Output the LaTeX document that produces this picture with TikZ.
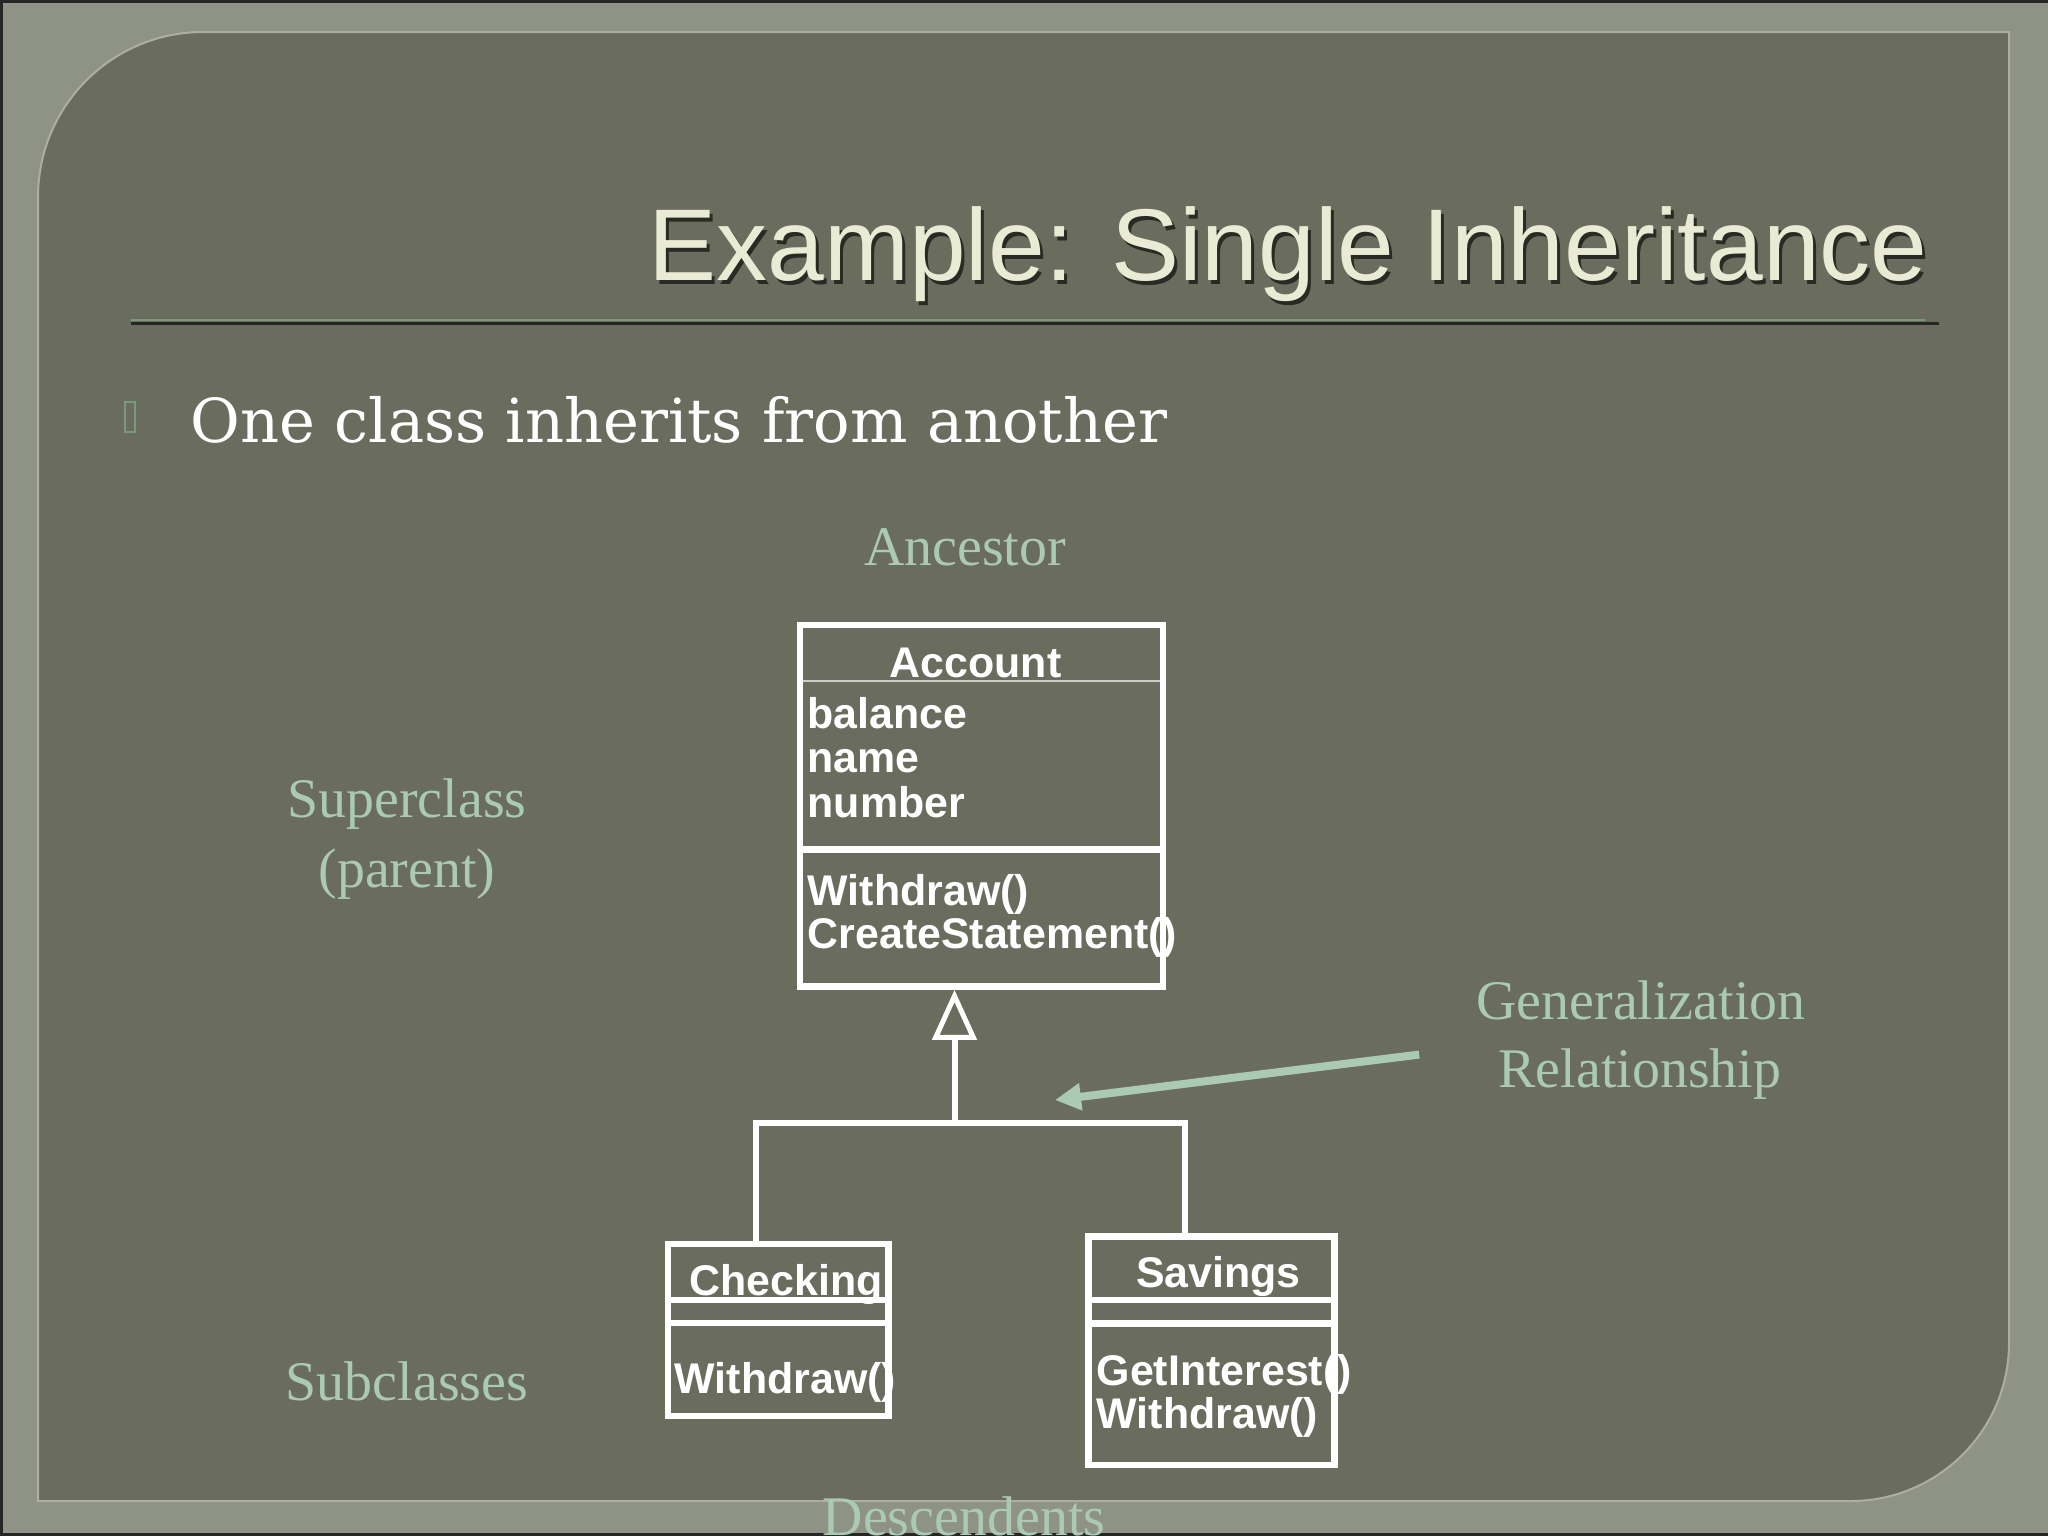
\documentclass[tikz,border=0pt]{standalone}
\usepackage{fontspec}
\setmainfont{Liberation Serif}
\newfontfamily\arialfont{Liberation Sans}
\newfontfamily\slabfont{DejaVu Serif}
\usetikzlibrary{arrows.meta}
\definecolor{framecol}{RGB}{143,147,133}
\definecolor{panelcol}{RGB}{106,108,94}
\definecolor{edgecol}{RGB}{172,175,160}
\definecolor{titlecol}{RGB}{234,235,212}
\definecolor{shadowcol}{RGB}{40,42,36}
\definecolor{notecol}{RGB}{170,202,178}
\definecolor{rulegreen}{RGB}{122,154,124}
\definecolor{bulletcol}{RGB}{122,152,124}

\tikzset{
  umlbox/.style={draw=white, line width=0.065cm, inner sep=0pt},
  divider/.style={draw=white, line width=0.065cm},
  umlname/.style={text=white, font=\arialfont\bfseries\fontsize{12.2}{14.5}\selectfont, inner sep=0pt, anchor=base},
  umlline/.style={umlname, anchor=base west},
  note/.style={text=notecol, font=\fontsize{15.9}{19}\selectfont, inner sep=0pt, anchor=base},
  link/.style={draw=white, line width=0.06cm},
  pointer/.style={draw=notecol, line width=0.08cm, -{Triangle[length=2.6mm,width=2.6mm]}},
}

\begin{document}
\begin{tikzpicture}[x=0.01cm, y=-0.01cm]
  \useasboundingbox (0,0) rectangle (2048,1536);
  \clip (0,0) rectangle (2048,1536);

  % Moldura e painel
  \fill[framecol] (0,0) rectangle (2048,1536);
  \draw[black!85, line width=0.03cm] (2048,1.5) -- (1.5,1.5) -- (1.5,1534.5) -- (2048,1534.5);
  \filldraw[fill=panelcol, draw=edgecol, line width=0.02cm]
    (38,1501) -- (38,197) .. controls (38,106) and (112,32) .. (203,32)
    -- (2009,32) -- (2009,1343) .. controls (2009,1430) and (1938,1501) .. (1851,1501) -- cycle;

  % Titulo
  \node[text=shadowcol, font=\arialfont\fontsize{29}{34}\selectfont, inner sep=0pt, anchor=base] (titleshadow) at (1291,284) {Example: Single Inheritance};
  \node[text=titlecol, font=\arialfont\fontsize{29}{34}\selectfont, inner sep=0pt, anchor=base] (title) at (1288,280) {Example: Single Inheritance};
  \draw[black!85, line width=0.025cm] (131,323.5) -- (1939,323.5);
  \draw[rulegreen, line width=0.025cm] (131,320) -- (1925,320);

  % Texto
  \node[draw=bulletcol, line width=0.015cm, minimum width=0.1cm, minimum height=0.3cm, inner sep=0pt] (bullet) at (130,417) {};
  \node[text=white, font=\slabfont\fontsize{17.25}{21}\selectfont, inner sep=0pt, anchor=base] (intro) at (679,442) {One class inherits from another};

  % Rotulos
  \node[note] (ancestor) at (965,565) {Ancestor};
  \node[note] (superclass) at (407,817) {Superclass};
  \node[note] (parent) at (407,887) {(parent)};
  \node[note] (subclasses) at (407,1400) {Subclasses};
  \node[note] (gen) at (1641,1019) {Generalization};
  \node[note] (rel) at (1640,1087) {Relationship};
  \node[note] (descend) at (964,1535) {Descendents};

  % Classe Account
  \node[umlbox, minimum width=3.63cm, minimum height=3.615cm] (account) at (981.5,805.75) {};
  \draw[white!65!panelcol, line width=0.02cm] (803,681) -- (1160,681);
  \draw[divider] (800,849.5) -- (1163,849.5);
  \node[umlname] (acctitle) at (975.5,677) {Account};
  \node[umlline] (accbal) at (807,728) {balance};
  \node[umlline] (accname) at (807,772) {name};
  \node[umlline] (accnum) at (807,817) {number};
  \node[umlline] (accwd) at (807,905) {Withdraw()};
  \node[umlline] (accstmt) at (807,948) {CreateStatement()};

  % Classe Checking
  \node[umlbox, minimum width=2.206cm, minimum height=1.72cm] (checking) at (778.3,1330) {};
  \draw[divider] (668,1300) -- (888.6,1300);
  \draw[divider] (668,1323) -- (888.6,1323);
  \node[umlname] (chktitle) at (786,1295) {Checking};
  \node[umlline] (chkwd) at (674,1393) {Withdraw()};

  % Classe Savings
  \node[umlbox, minimum width=2.46cm, minimum height=2.285cm] (savings) at (1211.5,1350.75) {};
  \draw[divider] (1088.5,1300) -- (1334.5,1300);
  \draw[divider] (1088.5,1323.5) -- (1334.5,1323.5);
  \node[umlname] (savtitle) at (1218.5,1287) {Savings};
  \node[umlline] (savint) at (1096,1385) {GetInterest()};
  \node[umlline] (savwd) at (1096,1428) {Withdraw()};

  % Heranca
  \coordinate (junction) at (954.5,1123);
  \coordinate (cleft) at (756,1123);
  \coordinate (cright) at (1185,1123);
  \draw[link] (checking.north -| cleft) -- (cleft) -- (cright) -- (savings.north -| cright);
  \draw[link, -{Triangle[open, length=0.5cm, width=0.44cm, line width=0.05cm]}] (junction) -- (account.south -| junction);

  % Seta verde
  \coordinate (genhead) at (1055,1100);
  \draw[pointer, shorten <=0.57cm] (rel.north -| gen.west) -- (genhead);
\end{tikzpicture}
\end{document}
